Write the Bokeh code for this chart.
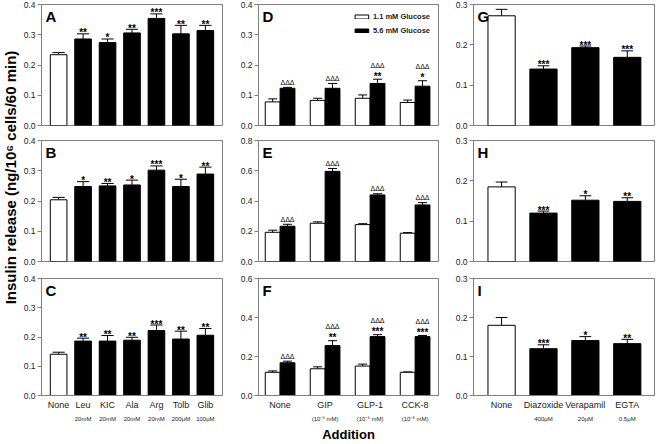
import numpy as np
from bokeh.plotting import figure
from bokeh.layouts import gridplot, row
from bokeh.models import (ColumnDataSource, FixedTicker, Whisker, TeeHead, Label,
                          Legend, LegendItem, Range1d, PrintfTickFormatter, LinearAxis)
from bokeh.embed import file_html
from bokeh.resources import INLINE
from bokeh.core.properties import value

# ---------------- data ----------------
cats_left = ["None", "Leu", "KIC", "Ala", "Arg", "Tolb", "Glib"]
sub_left = ["", "20mM", "20mM", "20mM", "20mM", "200\u03bcM", "100\u03bcM"]

A_mean = [0.234, 0.286, 0.274, 0.306, 0.354, 0.303, 0.314]
A_err = [0.007, 0.017, 0.012, 0.012, 0.015, 0.028, 0.017]
A_sig = ["", "**", "*", "**", "***", "**", "**"]

B_mean = [0.204, 0.248, 0.250, 0.253, 0.302, 0.248, 0.289]
B_err = [0.008, 0.016, 0.008, 0.016, 0.014, 0.024, 0.023]
B_sig = ["", "*", "**", "*", "***", "*", "**"]

C_mean = [0.141, 0.186, 0.186, 0.189, 0.222, 0.193, 0.206]
C_err = [0.007, 0.010, 0.019, 0.010, 0.019, 0.027, 0.023]
C_sig = ["", "**", "**", "**", "***", "**", "**"]

cats_mid = ["None", "GIP", "GLP-1", "CCK-8"]
sub_mid = ["", "(10\u207b\u2079 mM)", "(10\u207b\u2079 mM)", "(10\u207b\u2078 mM)"]
series_mid = ["1.1 mM Glucose", "5.6 mM Glucose"]

D_low = [0.078, 0.083, 0.090, 0.076]
D_low_err = [0.010, 0.007, 0.011, 0.008]
D_high = [0.123, 0.123, 0.139, 0.130]
D_high_err = [0.003, 0.016, 0.014, 0.018]
D_sig = ["", "", "**", "*"]
D_delta = ["\u0394\u0394\u0394"] * 4

E_low = [0.193, 0.253, 0.244, 0.187]
E_low_err = [0.014, 0.009, 0.006, 0.004]
E_high = [0.233, 0.596, 0.440, 0.374]
E_high_err = [0.013, 0.019, 0.008, 0.015]
E_sig = ["", "", "", ""]
E_delta = ["\u0394\u0394\u0394"] * 4

F_low = [0.119, 0.137, 0.151, 0.119]
F_low_err = [0.007, 0.010, 0.010, 0.002]
F_high = [0.168, 0.256, 0.302, 0.302]
F_high_err = [0.008, 0.025, 0.010, 0.006]
F_sig = ["", "**", "***", "***"]
F_delta = ["\u0394\u0394\u0394"] * 4

cats_right = ["None", "Diazoxide", "Verapamil", "EGTA"]
sub_right = ["", "400\u03bcM", "20\u03bcM", "0.5\u03bcM"]

G_mean = [0.272, 0.140, 0.193, 0.169]
G_err = [0.016, 0.008, 0.004, 0.016]
G_sig = ["", "***", "***", "***"]

H_mean = [0.185, 0.120, 0.152, 0.149]
H_err = [0.012, 0.005, 0.011, 0.009]
H_sig = ["", "***", "*", "**"]

I_mean = [0.180, 0.120, 0.141, 0.133]
I_err = [0.020, 0.010, 0.010, 0.011]
I_sig = ["", "***", "*", "**"]

yticks_04 = [0.0, 0.1, 0.2, 0.3, 0.4]
yticks_08 = [0.0, 0.2, 0.4, 0.6, 0.8]
yticks_06 = [0.0, 0.2, 0.4, 0.6]
yticks_03 = [0.0, 0.1, 0.2, 0.3]

y_title = "Insulin release (ng/10\u2076 cells/60 min)"
x_title = "Addition"

# ---------------- styling / geometry ----------------
FONT = "Liberation Sans"
GRAY = "#808080"
TXT = "#222222"
LABW = 20
COLW = [217, 215, 204]
BL = [19, 20, 20]
BR = [15, 14, 2]
ROWH = [133, 137, 174]
BT = [4, 7, 8]
BB = [8, 9, 45]
XR = [(-0.7, 6.7), (-0.48, 3.52), (-0.67, 3.65)]


def make_panel(col, row_i, ymax, yticks, letter, cats=None, subs=None, xlabel=None):
    p = figure(width=COLW[col], height=ROWH[row_i],
               x_range=Range1d(*XR[col]), y_range=Range1d(0, ymax),
               output_backend="svg", toolbar_location=None, tools="",
               x_axis_location=("below" if row_i == 2 else None),
               min_border_left=BL[col], min_border_right=BR[col],
               min_border_top=BT[row_i], min_border_bottom=BB[row_i])
    p.outline_line_color = GRAY
    p.outline_line_width = 1
    p.xgrid.visible = False
    p.ygrid.visible = False
    p.background_fill_color = "white"
    p.border_fill_color = "white"
    yax = p.yaxis[0]
    yax.ticker = FixedTicker(ticks=yticks)
    yax.formatter = PrintfTickFormatter(format="%.1f")
    yax.axis_line_color = GRAY
    yax.major_tick_line_color = GRAY
    yax.major_tick_out = 4
    yax.major_tick_in = 0
    yax.minor_tick_line_color = None
    yax.major_label_standoff = 2
    yax.major_label_text_font = FONT
    yax.major_label_text_font_size = "8.5px"
    yax.major_label_text_color = TXT
    if row_i == 2:
        ticks = list(range(len(cats)))
        xax = p.xaxis[0]
        xax.ticker = FixedTicker(ticks=ticks)
        xax.major_label_overrides = {i: c for i, c in enumerate(cats)}
        xax.axis_line_color = GRAY
        xax.major_tick_line_color = None
        xax.major_tick_out = 0
        xax.major_tick_in = 0
        xax.minor_tick_line_color = None
        xax.major_label_standoff = 4
        xax.major_label_text_font = FONT
        xax.major_label_text_font_size = "9px"
        xax.major_label_text_color = TXT
        sub_ax = LinearAxis(ticker=FixedTicker(ticks=ticks),
                            major_label_overrides={i: s for i, s in enumerate(subs)},
                            axis_line_color=None, major_tick_line_color=None,
                            minor_tick_line_color=None, major_tick_out=0, major_tick_in=0,
                            major_label_standoff=3, major_label_text_font=FONT,
                            major_label_text_font_size="6px", major_label_text_color=TXT)
        if xlabel:
            sub_ax.axis_label = xlabel
            sub_ax.axis_label_standoff = 2
            sub_ax.axis_label_text_font = FONT
            sub_ax.axis_label_text_font_size = "13px"
            sub_ax.axis_label_text_font_style = "bold"
            sub_ax.axis_label_text_color = "black"
        p.add_layout(sub_ax, "below")
    p.add_layout(Label(x=XR[col][0], y=ymax, x_offset=4, y_offset=-3, text=letter,
                       text_align="left", text_baseline="top", text_font=FONT,
                       text_font_size="15px", text_font_style="bold", text_color="black"))
    return p


def single_bars(p, mean, err, sig, width):
    n = len(mean)
    xs = list(range(n))
    src = ColumnDataSource(dict(
        x=xs, top=mean, etop=[m + e for m, e in zip(mean, err)], sig=sig,
        color=["white"] + ["black"] * (n - 1)))
    p.vbar(x="x", top="top", width=width, source=src, fill_color="color",
           line_color="black", line_width=1)
    p.add_layout(Whisker(source=src, base="x", lower="top", upper="etop",
                         dimension="height", line_color="black", line_width=1,
                         upper_head=TeeHead(size=width * 18, line_color="black", line_width=1),
                         lower_head=None))
    p.text(x="x", y="etop", text="sig", source=src, text_align="center",
           text_baseline="alphabetic", y_offset=-1, text_font=value(FONT),
           text_font_size="10px", text_font_style="bold", text_color="black")


def paired_bars(p, low, low_err, high, high_err, sig, delta):
    n = len(low)
    off = 0.165
    w = 0.33
    src_l = ColumnDataSource(dict(x=[i - off for i in range(n)], top=low,
                                  etop=[m + e for m, e in zip(low, low_err)]))
    src_h = ColumnDataSource(dict(x=[i + off for i in range(n)], top=high,
                                  etop=[m + e for m, e in zip(high, high_err)],
                                  sig=sig, delta=delta,
                                  doff=[-14 if s else -5 for s in sig]))
    r_l = p.vbar(x="x", top="top", width=w, source=src_l, fill_color="white",
                 line_color="black", line_width=1)
    r_h = p.vbar(x="x", top="top", width=w, source=src_h, fill_color="black",
                 line_color="black", line_width=1)
    for s in (src_l, src_h):
        p.add_layout(Whisker(source=s, base="x", lower="top", upper="etop",
                             dimension="height", line_color="black", line_width=1,
                             upper_head=TeeHead(size=9, line_color="black", line_width=1),
                             lower_head=None))
    p.text(x="x", y="etop", text="sig", source=src_h, text_align="center",
           text_baseline="alphabetic", y_offset=-3, text_font=value(FONT),
           text_font_size="10px", text_font_style="bold", text_color="black")
    p.text(x="x", y="etop", text="delta", source=src_h, text_align="center",
           text_baseline="alphabetic", y_offset="doff", text_font=value(FONT),
           text_font_size="7px", text_color="black")
    return r_l, r_h


pA = make_panel(0, 0, 0.4, yticks_04, "A")
pB = make_panel(0, 1, 0.4, yticks_04, "B")
pC = make_panel(0, 2, 0.4, yticks_04, "C", cats_left, sub_left)
single_bars(pA, A_mean, A_err, A_sig, 0.68)
single_bars(pB, B_mean, B_err, B_sig, 0.68)
single_bars(pC, C_mean, C_err, C_sig, 0.68)

pD = make_panel(1, 0, 0.4, yticks_04, "D")
pE = make_panel(1, 1, 0.8, yticks_08, "E")
pF = make_panel(1, 2, 0.6, yticks_06, "F", cats_mid, sub_mid, xlabel=x_title)
rl, rh = paired_bars(pD, D_low, D_low_err, D_high, D_high_err, D_sig, D_delta)
paired_bars(pE, E_low, E_low_err, E_high, E_high_err, E_sig, E_delta)
paired_bars(pF, F_low, F_low_err, F_high, F_high_err, F_sig, F_delta)

legend = Legend(items=[LegendItem(label=series_mid[0], renderers=[rl]),
                       LegendItem(label=series_mid[1], renderers=[rh])],
                location="top_right", glyph_width=17, glyph_height=5, label_height=8,
                label_standoff=3, spacing=5, padding=0, margin=8,
                border_line_color=None, background_fill_alpha=0,
                label_text_font=FONT, label_text_font_size="7.5px",
                label_text_font_style="bold", label_text_color=TXT)
pD.add_layout(legend)

pG = make_panel(2, 0, 0.3, yticks_03, "G")
pH = make_panel(2, 1, 0.3, yticks_03, "H")
pI = make_panel(2, 2, 0.3, yticks_03, "I", cats_right, sub_right)
single_bars(pG, G_mean, G_err, G_sig, 0.65)
single_bars(pH, H_mean, H_err, H_sig, 0.65)
single_bars(pI, I_mean, I_err, I_sig, 0.65)

# narrow strip holding the shared y-axis title
total_h = sum(ROWH)
lab = figure(width=LABW, height=total_h, x_range=Range1d(0, 1), y_range=Range1d(0, 1),
             output_backend="svg", toolbar_location=None, tools="",
             x_axis_location=None, y_axis_location=None, min_border=0)
lab.outline_line_color = None
lab.xgrid.visible = False
lab.ygrid.visible = False
lab.add_layout(Label(x=0.5, y=1 - 177 / total_h, text=y_title, angle=90, angle_units="deg",
                     text_align="center", text_baseline="middle", text_font=FONT,
                     text_font_size="15px", text_font_style="bold", text_color="black"))

grid = gridplot([[pA, pD, pG], [pB, pE, pH], [pC, pF, pI]], toolbar_location=None)
layout = row(lab, grid)
layout.margin = (0, 0, 0, 0)

open("out.html", "w").write(file_html(layout, INLINE))
